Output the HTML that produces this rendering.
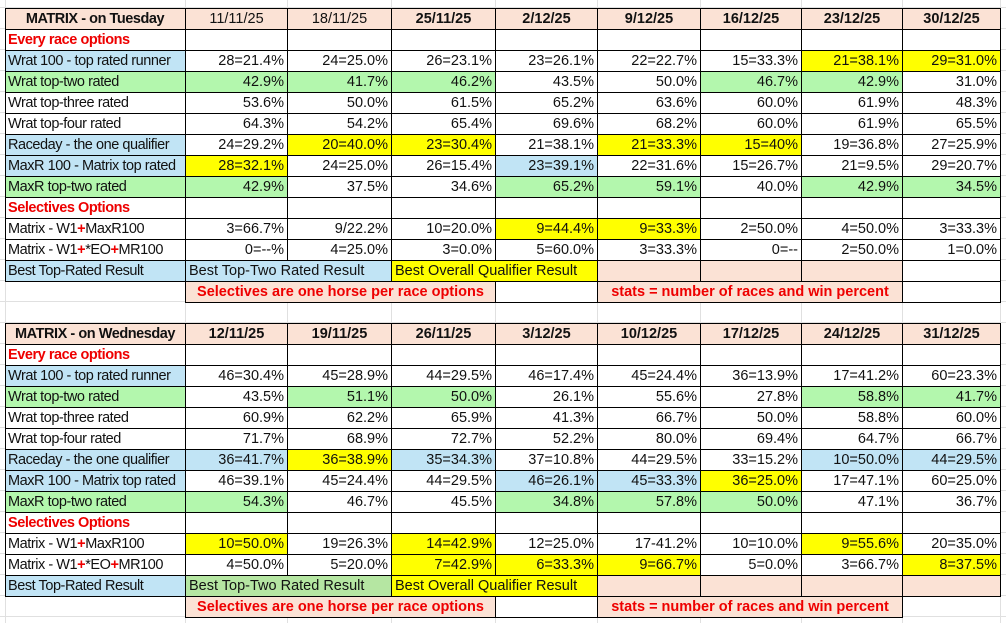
<!DOCTYPE html>
<html><head><meta charset="utf-8"><style>
html,body{margin:0;padding:0;}
body{width:1006px;height:623px;position:relative;overflow:hidden;background:#fff;
font-family:"Liberation Sans",Arial,sans-serif;}
.grid{position:absolute;left:0;top:0;width:1006px;height:623px;
background-image:
repeating-linear-gradient(to bottom,transparent 0,transparent 7px,#e0e0e0 7px,#e0e0e0 8px,transparent 8px,transparent 21px);
}
.vl{position:absolute;top:0;height:623px;width:1px;background:#e0e0e0}
table{position:absolute;left:5px;width:995px;border-collapse:collapse;table-layout:fixed;}
td{border:1px solid #000;height:20px;padding:0 3px 0 3px;font-size:14.5px;text-align:right;white-space:nowrap;overflow:hidden;line-height:20px;color:#111;background:#fff;vertical-align:middle}
td:first-child{letter-spacing:-0.45px;padding-left:2px}
td.l{text-align:left}
td.c{text-align:center}
.p{background:#fbe2d5}.b{background:#c1e4f5}.g{background:#b3f7ad}.y{background:#ffff00}.gd{background:#b5e6a2}
.hb{font-weight:bold}
.red{color:#ee0000;font-weight:bold}
.n{border:none;background:transparent}
.r{color:#ee0000;font-weight:bold}
</style></head><body>
<div class="grid"></div>
<div class="vl" style="left:5px"></div><div class="vl" style="left:185px"></div><div class="vl" style="left:287px"></div><div class="vl" style="left:391px"></div><div class="vl" style="left:495px"></div><div class="vl" style="left:597px"></div><div class="vl" style="left:700px"></div><div class="vl" style="left:801px"></div><div class="vl" style="left:902px"></div><div class="vl" style="left:1000px"></div>

<table style="top:8px">
<colgroup><col style="width:180px"><col style="width:102px"><col style="width:104px"><col style="width:104px"><col style="width:102px"><col style="width:103px"><col style="width:101px"><col style="width:101px"><col style="width:98px"></colgroup>
<tr><td class="p c hb">MATRIX - on Tuesday</td><td class="p c">11/11/25</td><td class="p c">18/11/25</td><td class="p c hb">25/11/25</td><td class="p c hb">2/12/25</td><td class="p c hb">9/12/25</td><td class="p c hb">16/12/25</td><td class="p c hb">23/12/25</td><td class="p c hb">30/12/25</td></tr>
<tr><td class="l red">Every race options</td><td></td><td></td><td></td><td></td><td></td><td></td><td></td><td></td></tr>
<tr><td class="l b">Wrat 100 - top rated runner</td><td>28=21.4%</td><td>24=25.0%</td><td>26=23.1%</td><td>23=26.1%</td><td>22=22.7%</td><td>15=33.3%</td><td class="y">21=38.1%</td><td class="y">29=31.0%</td></tr>
<tr><td class="l g">Wrat top-two rated</td><td class="g">42.9%</td><td class="g">41.7%</td><td class="g">46.2%</td><td>43.5%</td><td>50.0%</td><td class="g">46.7%</td><td class="g">42.9%</td><td>31.0%</td></tr>
<tr><td class="l">Wrat top-three rated</td><td>53.6%</td><td>50.0%</td><td>61.5%</td><td>65.2%</td><td>63.6%</td><td>60.0%</td><td>61.9%</td><td>48.3%</td></tr>
<tr><td class="l">Wrat top-four rated</td><td>64.3%</td><td>54.2%</td><td>65.4%</td><td>69.6%</td><td>68.2%</td><td>60.0%</td><td>61.9%</td><td>65.5%</td></tr>
<tr><td class="l b">Raceday - the one qualifier</td><td>24=29.2%</td><td class="y">20=40.0%</td><td class="y">23=30.4%</td><td>21=38.1%</td><td class="y">21=33.3%</td><td class="y">15=40%</td><td>19=36.8%</td><td>27=25.9%</td></tr>
<tr><td class="l b">MaxR 100 - Matrix top rated</td><td class="y">28=32.1%</td><td>24=25.0%</td><td>26=15.4%</td><td class="b">23=39.1%</td><td>22=31.6%</td><td>15=26.7%</td><td>21=9.5%</td><td>29=20.7%</td></tr>
<tr><td class="l g">MaxR top-two rated</td><td class="g">42.9%</td><td>37.5%</td><td>34.6%</td><td class="g">65.2%</td><td class="g">59.1%</td><td>40.0%</td><td class="g">42.9%</td><td class="g">34.5%</td></tr>
<tr><td class="l red">Selectives Options</td><td></td><td></td><td></td><td></td><td></td><td></td><td></td><td></td></tr>
<tr><td class="l">Matrix - W1<span class="r">+</span>MaxR100</td><td>3=66.7%</td><td>9/22.2%</td><td>10=20.0%</td><td class="y">9=44.4%</td><td class="y">9=33.3%</td><td>2=50.0%</td><td>4=50.0%</td><td>3=33.3%</td></tr>
<tr><td class="l">Matrix - W1<span class="r">+</span>*EO<span class="r">+</span>MR100</td><td>0=--%</td><td>4=25.0%</td><td>3=0.0%</td><td>5=60.0%</td><td>3=33.3%</td><td>0=--</td><td>2=50.0%</td><td>1=0.0%</td></tr>
<tr><td class="l b">Best Top-Rated Result</td><td class="l b" colspan="2">Best Top-Two Rated Result</td><td class="l y" colspan="2">Best Overall Qualifier Result</td><td class="p"></td><td class="p"></td><td class="p"></td><td></td></tr>
<tr><td class="n"></td><td class="p c red" colspan="3">Selectives are one horse per race options</td><td></td><td class="p c red" colspan="3">stats = number of races and win percent</td><td></td></tr>
</table>

<table style="top:323px">
<colgroup><col style="width:180px"><col style="width:102px"><col style="width:104px"><col style="width:104px"><col style="width:102px"><col style="width:103px"><col style="width:101px"><col style="width:101px"><col style="width:98px"></colgroup>
<tr><td class="p c hb">MATRIX - on Wednesday</td><td class="p c hb">12/11/25</td><td class="p c hb">19/11/25</td><td class="p c hb">26/11/25</td><td class="p c hb">3/12/25</td><td class="p c hb">10/12/25</td><td class="p c hb">17/12/25</td><td class="p c hb">24/12/25</td><td class="p c hb">31/12/25</td></tr>
<tr><td class="l red">Every race options</td><td></td><td></td><td></td><td></td><td></td><td></td><td></td><td></td></tr>
<tr><td class="l b">Wrat 100 - top rated runner</td><td>46=30.4%</td><td>45=28.9%</td><td>44=29.5%</td><td>46=17.4%</td><td>45=24.4%</td><td>36=13.9%</td><td>17=41.2%</td><td>60=23.3%</td></tr>
<tr><td class="l g">Wrat top-two rated</td><td>43.5%</td><td class="g">51.1%</td><td class="g">50.0%</td><td>26.1%</td><td>55.6%</td><td>27.8%</td><td class="g">58.8%</td><td class="g">41.7%</td></tr>
<tr><td class="l">Wrat top-three rated</td><td>60.9%</td><td>62.2%</td><td>65.9%</td><td>41.3%</td><td>66.7%</td><td>50.0%</td><td>58.8%</td><td>60.0%</td></tr>
<tr><td class="l">Wrat top-four rated</td><td>71.7%</td><td>68.9%</td><td>72.7%</td><td>52.2%</td><td>80.0%</td><td>69.4%</td><td>64.7%</td><td>66.7%</td></tr>
<tr><td class="l b">Raceday - the one qualifier</td><td class="b">36=41.7%</td><td class="y">36=38.9%</td><td class="b">35=34.3%</td><td>37=10.8%</td><td>44=29.5%</td><td>33=15.2%</td><td class="b">10=50.0%</td><td class="b">44=29.5%</td></tr>
<tr><td class="l b">MaxR 100 - Matrix top rated</td><td>46=39.1%</td><td>45=24.4%</td><td>44=29.5%</td><td class="b">46=26.1%</td><td class="b">45=33.3%</td><td class="y">36=25.0%</td><td>17=47.1%</td><td>60=25.0%</td></tr>
<tr><td class="l g">MaxR top-two rated</td><td class="g">54.3%</td><td>46.7%</td><td>45.5%</td><td class="g">34.8%</td><td class="g">57.8%</td><td class="g">50.0%</td><td>47.1%</td><td>36.7%</td></tr>
<tr><td class="l red">Selectives Options</td><td></td><td></td><td></td><td></td><td></td><td></td><td></td><td></td></tr>
<tr><td class="l">Matrix - W1<span class="r">+</span>MaxR100</td><td class="y">10=50.0%</td><td>19=26.3%</td><td class="y">14=42.9%</td><td>12=25.0%</td><td>17-41.2%</td><td>10=10.0%</td><td class="y">9=55.6%</td><td>20=35.0%</td></tr>
<tr><td class="l">Matrix - W1<span class="r">+</span>*EO<span class="r">+</span>MR100</td><td>4=50.0%</td><td>5=20.0%</td><td class="y">7=42.9%</td><td class="y">6=33.3%</td><td class="y">9=66.7%</td><td>5=0.0%</td><td>3=66.7%</td><td class="y">8=37.5%</td></tr>
<tr><td class="l b">Best Top-Rated Result</td><td class="l gd" colspan="2">Best Top-Two Rated Result</td><td class="l y" colspan="2">Best Overall Qualifier Result</td><td class="p"></td><td class="p"></td><td class="p"></td><td class="p"></td></tr>
<tr><td class="n"></td><td class="p c red" colspan="3">Selectives are one horse per race options</td><td></td><td class="p c red" colspan="3">stats = number of races and win percent</td><td class="n"></td></tr>
</table>
</body></html>
